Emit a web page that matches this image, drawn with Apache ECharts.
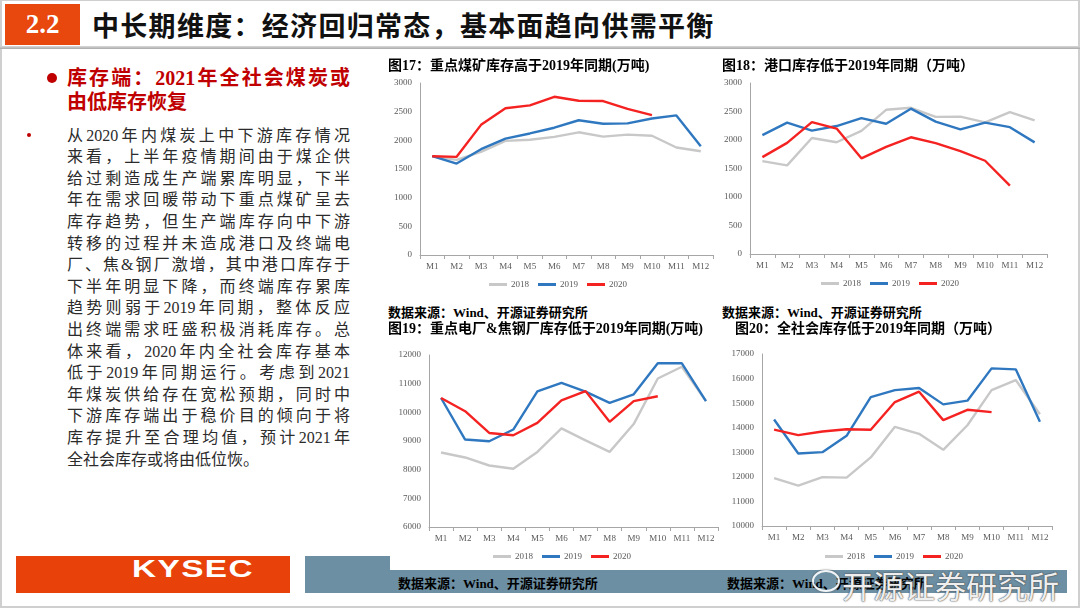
<!DOCTYPE html>
<html>
<head>
<meta charset="utf-8">
<script src="https://cdn.jsdelivr.net/npm/echarts@6/dist/echarts.min.js"></script>
<style>
  html, body { margin: 0; padding: 0; }
  body { width: 1080px; height: 610px; position: relative; overflow: hidden; background: #fff; font-family: "Liberation Serif", "Noto Sans CJK SC", serif; }
  .abs { position: absolute; }
  #frame { left: 0; top: 0; width: 1076px; height: 605px; border: 2px solid #cfcfcf; border-top-width: 1px; }
  #numbox { left: 5px; top: 4px; width: 75px; height: 41px; background: #E8470E; color: #fff; font: bold 27px "Liberation Serif", serif; line-height: 41px; text-align: center; }
  #hline { left: 0; top: 46px; width: 1080px; height: 3px; background: linear-gradient(#d9d9d9, #a9a9a9); }
  #title { left: 92px; top: 5px; height: 40px; line-height: 40px; font: bold 27px "Noto Sans CJK SC", sans-serif; color: #111; letter-spacing: 1.3px; white-space: nowrap; }
  .hd { left: 67px; width: 283px; color: #C00000; font: bold 20px "Liberation Serif", "Noto Sans CJK SC", serif; line-height: 24px; height: 24px; white-space: nowrap; }
  .jl { text-align: justify; text-align-last: justify; }
  .bd { left: 67px; width: 283px; color: #2b2b2b; font: 16px "Liberation Serif", "Noto Sans CJK SC", serif; line-height: 21.6px; height: 21.6px; white-space: nowrap; }
  #dot1 { left: 47px; top: 73px; width: 10px; height: 10px; border-radius: 50%; background: #C00000; }
  #dot2 { left: 27px; top: 133px; width: 4px; height: 4px; border-radius: 50%; background: #C00000; }
  #orange { left: 16px; top: 556px; width: 274px; height: 37px; background: #E8420A; }
  #kysec { left: 118px; top: 556px; width: 150px; height: 37px; line-height: 37px; text-align: center; color: #fff; font: bold 23px "Liberation Sans", sans-serif; transform: scaleX(1.45); transform-origin: center; letter-spacing: 1px; }
  #steel1 { left: 305px; top: 556px; width: 85px; height: 37px; background: #6D8FA3; }
  #steel2 { left: 390px; top: 570px; width: 677px; height: 23px; background: #6D8FA3; }
  .src { color: #000; font: bold 13px "Liberation Serif", "Noto Sans CJK SC", serif; white-space: nowrap; }
  #wm { left: 842px; top: 562px; font: 31px "Noto Sans CJK SC", sans-serif; color: rgba(255,255,255,0.92); white-space: nowrap; text-shadow: 0 0 2px #555, 0 0 1px #333; }
  #wlogo { left: 812px; top: 570px; width: 24px; height: 18px; border-radius: 50%; border: 2px solid rgba(255,255,255,0.9); box-shadow: 0 0 2px #555; }
  #chart { position: absolute; left: 0; top: 0; width: 1080px; height: 610px; z-index: 5; }
</style>
</head>
<body>
<div id="frame" class="abs"></div>
<div id="numbox" class="abs">2.2</div>
<div id="title" class="abs">中长期维度：经济回归常态，基本面趋向供需平衡</div>
<div id="hline" class="abs"></div>

<div id="dot1" class="abs"></div>
<div class="abs hd jl" style="top:66px">库存端：2021年全社会煤炭或</div>
<div class="abs hd" style="top:90px">由低库存恢复</div>
<div id="dot2" class="abs"></div>
<div id="body"></div>

<div id="orange" class="abs"></div>
<div id="kysec" class="abs">KYSEC</div>
<div id="steel1" class="abs"></div>
<div id="steel2" class="abs"></div>
<div class="abs src" style="left:388px;top:302px;">数据来源：Wind、开源证券研究所</div>
<div class="abs src" style="left:722px;top:302px;">数据来源：Wind、开源证券研究所</div>
<div class="abs src" style="left:398px;top:573px;">数据来源：Wind、开源证券研究所</div>
<div class="abs src" style="left:727px;top:573px;">数据来源：Wind、开源证券研究所</div>
<div id="wlogo" class="abs"></div>
<div id="wm" class="abs">开源证券研究所</div>

<div id="chart"></div>
<script>
// ---------- data ----------
const months = ['M1','M2','M3','M4','M5','M6','M7','M8','M9','M10','M11','M12'];
const legendNames = ['2018','2019','2020'];

// 图17 重点煤矿库存 (万吨)
const mine2018 = [1720, 1660, 1800, 1990, 2010, 2060, 2140, 2065, 2100, 2080, 1875, 1810];
const mine2019 = [1725, 1595, 1845, 2030, 2120, 2220, 2350, 2290, 2295, 2380, 2435, 1895];
const mine2020 = [1722, 1712, 2270, 2560, 2610, 2760, 2690, 2685, 2550, 2440, null, null];

// 图18 港口库存 (万吨)
const port2018 = [1630, 1555, 2035, 1960, 2160, 2530, 2565, 2405, 2410, 2310, 2490, 2345];
const port2019 = [2085, 2305, 2165, 2245, 2385, 2285, 2550, 2322, 2188, 2305, 2225, 1958];
const port2020 = [1700, 1950, 2315, 2200, 1678, 1880, 2048, 1945, 1805, 1636, 1200, null];

// 图19 重点电厂&焦钢厂库存 (万吨)
const plant2018 = [8600, 8425, 8145, 8030, 8620, 9440, 9020, 8620, 9590, 11180, 11590, 10390];
const plant2019 = [10500, 9050, 8990, 9400, 10730, 11030, 10720, 10330, 10630, 11710, 11710, 10390];
const plant2020 = [10500, 10040, 9280, 9200, 9630, 10420, 10740, 9670, 10390, 10560, null, null];

// 图20 全社会库存 (万吨)
const total2018 = [11945, 11645, 11990, 11970, 12790, 14035, 13750, 13100, 14100, 15530, 15940, 14550];
const total2019 = [14335, 12950, 13005, 13670, 15245, 15530, 15615, 14950, 15100, 16415, 16375, 14240];
const total2020 = [13925, 13700, 13845, 13940, 13915, 15045, 15465, 14310, 14730, 14635, null, null];

// y-axis ranges (tick labels)
const yRanges = [
  {min: 0, max: 3000, interval: 500},
  {min: 0, max: 3000, interval: 500},
  {min: 6000, max: 12000, interval: 1000},
  {min: 10000, max: 17000, interval: 1000}
];
const chartData = [
  [mine2018, mine2019, mine2020],
  [port2018, port2019, port2020],
  [plant2018, plant2019, plant2020],
  [total2018, total2019, total2020]
];
const chartTitles = [
  '图17：重点煤矿库存高于2019年同期(万吨)',
  '图18：港口库存低于2019年同期（万吨）',
  '图19：重点电厂&焦钢厂库存低于2019年同期(万吨)',
  '图20：全社会库存低于2019年同期（万吨）'
];
const bodyLines = [
  '从2020年内煤炭上中下游库存情况',
  '来看，上半年疫情期间由于煤企供',
  '给过剩造成生产端累库明显，下半',
  '年在需求回暖带动下重点煤矿呈去',
  '库存趋势，但生产端库存向中下游',
  '转移的过程并未造成港口及终端电',
  '厂、焦&钢厂激增，其中港口库存于',
  '下半年明显下降，而终端库存累库',
  '趋势则弱于2019年同期，整体反应',
  '出终端需求旺盛积极消耗库存。总',
  '体来看，2020年内全社会库存基本',
  '低于2019年同期运行。考虑到2021',
  '年煤炭供给存在宽松预期，同时中',
  '下游库存端出于稳价目的倾向于将',
  '库存提升至合理均值，预计2021年',
  '全社会库存或将由低位恢。'
];

// ---------- left paragraph ----------
const bodyEl = document.getElementById('body');
bodyLines.forEach((t, i) => {
  const d = document.createElement('div');
  d.className = 'abs bd' + (i < bodyLines.length - 1 ? ' jl' : '');
  d.style.top = (124.5 + i * 21.6) + 'px';
  d.textContent = t;
  bodyEl.appendChild(d);
});

// ---------- charts ----------
const grids = [
  {left: 420, top: 83, width: 293, height: 172},
  {left: 750, top: 83, width: 297, height: 171},
  {left: 429, top: 355, width: 289, height: 172},
  {left: 762, top: 354, width: 290, height: 172}
];
const titlePos = [
  {left: 388, top: 59},
  {left: 722, top: 59},
  {left: 388, top: 322},
  {left: 735, top: 322}
];
const legendPos = [
  {left: 489, top: 280},
  {left: 821, top: 279},
  {left: 493, top: 552},
  {left: 825, top: 552}
];
const colors = ['#C8C8C8', '#2F78C0', '#F52222'];
const axisColor = '#A6A6A6';
const labelFont = {fontFamily: 'Liberation Serif', fontSize: 9, color: '#595959'};

const option = {
  animation: false,
  grid: grids.map(g => Object.assign({containLabel: false}, g)),
  title: chartTitles.map((t, i) => ({
    text: t, left: titlePos[i].left, top: titlePos[i].top, padding: 0,
    textStyle: {fontFamily: 'Liberation Serif, Noto Sans CJK SC', fontSize: 14, fontWeight: 'bold', color: '#000'}
  })),
  legend: legendPos.map(p => ({
    data: legendNames, left: p.left, top: p.top, padding: 0,
    icon: 'rect', itemWidth: 18, itemHeight: 3, itemGap: 9,
    textStyle: Object.assign({}, labelFont, {fontSize: 9, padding: [0, 0, 0, -1]})
  })),
  xAxis: grids.map((g, i) => ({
    type: 'category', gridIndex: i, data: months, boundaryGap: true,
    axisLine: {lineStyle: {color: axisColor, width: 1}},
    axisTick: {show: true, length: 4, lineStyle: {color: axisColor}},
    axisLabel: Object.assign({margin: 7, interval: 0}, labelFont),
    splitLine: {show: false}
  })),
  yAxis: yRanges.map((r, i) => ({
    type: 'value', gridIndex: i, min: r.min, max: r.max, interval: r.interval,
    axisLine: {show: true, lineStyle: {color: axisColor, width: 1}},
    axisTick: {show: false},
    axisLabel: Object.assign({margin: 8, formatter: v => String(v)}, labelFont),
    splitLine: {show: false}
  })),
  series: []
};
chartData.forEach((sets, ci) => {
  sets.forEach((arr, si) => {
    option.series.push({
      name: legendNames[si], type: 'line', xAxisIndex: ci, yAxisIndex: ci,
      data: arr, symbol: 'none', connectNulls: false, z: 2 + si,
      lineStyle: {color: colors[si], width: 2.4}, itemStyle: {color: colors[si]}
    });
  });
});

const chart = echarts.init(document.getElementById('chart'), null, {renderer: 'canvas'});
chart.setOption(option);
</script>
</body>
</html>
